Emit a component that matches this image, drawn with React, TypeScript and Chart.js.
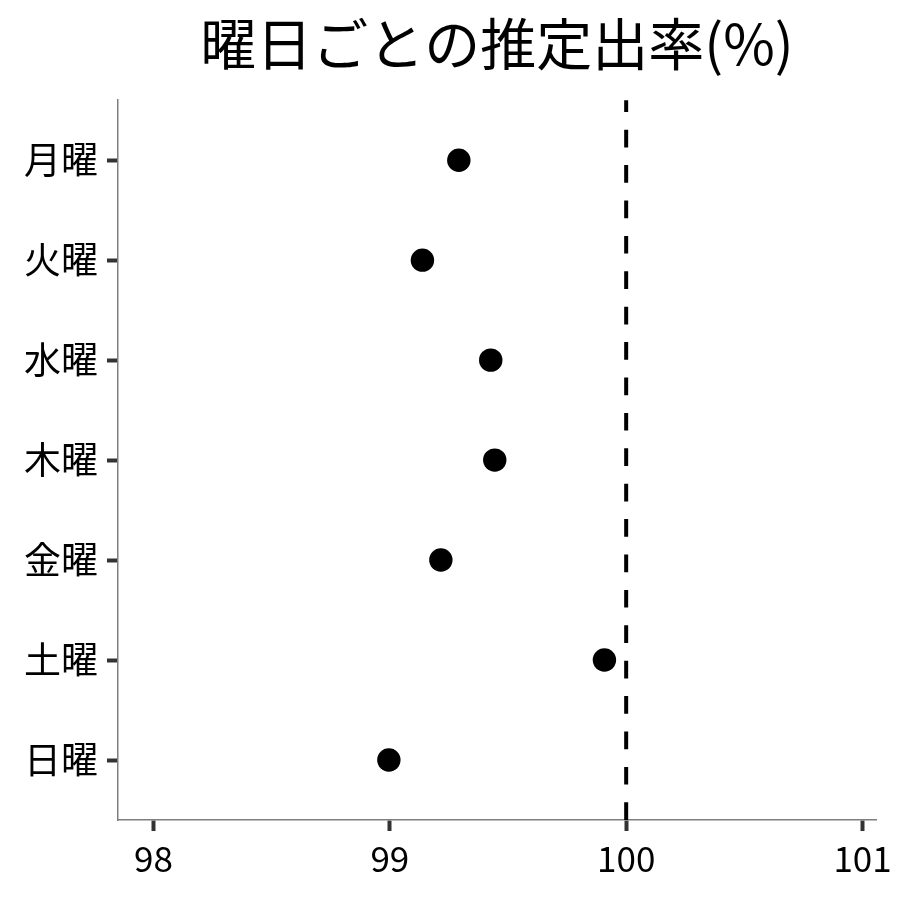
import React, { useEffect, useRef } from "react";
import { Chart, registerables } from "chart.js";

Chart.register(...registerables);

const DAYS = ["月曜", "火曜", "水曜", "木曜", "金曜", "土曜", "日曜"];
const RATES = [99.292, 99.138, 99.427, 99.444, 99.216, 99.908, 98.996];
const X_TICKS = [98, 99, 100, 101];
const REF_LINE = 100;
const TITLE = "曜日ごとの推定出率(%)";

const FONT = "'Noto Sans CJK JP', 'Noto Sans', sans-serif";

const refLinePlugin = {
  id: "refLine",
  beforeDatasetsDraw(chart: any) {
    const { ctx, chartArea, scales } = chart;
    const x = scales.x.getPixelForValue(REF_LINE);
    ctx.save();
    ctx.beginPath();
    ctx.strokeStyle = "#000000";
    ctx.lineWidth = 4;
    ctx.setLineDash([17.7, 17.7]);
    ctx.moveTo(x, chartArea.bottom);
    ctx.lineTo(x, chartArea.top);
    ctx.stroke();
    ctx.restore();
  },
};

export default function App() {
  const ref = useRef<HTMLCanvasElement | null>(null);

  useEffect(() => {
    if (!ref.current) return;
    const chart = new Chart(ref.current, {
      type: "scatter",
      data: {
        datasets: [
          {
            data: RATES.map((v, i) => ({ x: v, y: i })),
            backgroundColor: "#000000",
            borderWidth: 0,
            pointRadius: 11.7,
            pointHoverRadius: 11.7,
          },
        ],
      },
      options: {
        responsive: false,
        animation: false,
        events: [],
        layout: { padding: { left: 0, right: 24, top: 0, bottom: 0 } },
        plugins: {
          legend: { display: false },
          tooltip: { enabled: false },
          title: {
            display: true,
            text: TITLE,
            fullSize: false,
            color: "#000000",
            font: { family: FONT, size: 56, weight: "normal", lineHeight: 1.2 },
            padding: { top: 10, bottom: 23 },
          },
        },
        scales: {
          x: {
            type: "linear",
            min: 97.85,
            max: 101.057,
            afterBuildTicks: (scale: any) => {
              scale.ticks = X_TICKS.map((v) => ({ value: v }));
            },
            afterFit: (scale: any) => {
              scale.height = 80;
            },
            grid: {
              drawOnChartArea: false,
              drawTicks: true,
              tickLength: 11,
              tickWidth: 4,
              tickColor: "#333333",
            },
            border: { display: true, color: "#7f7f7f", width: 1.5 },
            ticks: {
              color: "#000000",
              padding: 7,
              maxRotation: 0,
              autoSkip: false,
              font: { family: FONT, size: 35 },
              callback: (v: any) => String(v),
            },
          },
          y: {
            type: "linear",
            reverse: true,
            min: -0.6,
            max: 6.6,
            afterBuildTicks: (scale: any) => {
              scale.ticks = DAYS.map((_, i) => ({ value: i }));
            },
            afterFit: (scale: any) => {
              scale.width = 118;
            },
            grid: {
              drawOnChartArea: false,
              drawTicks: true,
              tickLength: 11,
              tickWidth: 4,
              tickColor: "#333333",
            },
            border: { display: true, color: "#7f7f7f", width: 1.5 },
            ticks: {
              color: "#000000",
              padding: 9,
              autoSkip: false,
              font: { family: FONT, size: 37 },
              callback: (v: any) => DAYS[Math.round(Number(v))] ?? "",
            },
          },
        },
      },
      plugins: [refLinePlugin],
    });
    return () => chart.destroy();
  }, []);

  return (
    <div style={{ position: "fixed", left: 0, top: 0, width: 900, height: 900, background: "#ffffff" }}>
      <canvas ref={ref} width={900} height={900} style={{ display: "block" }} />
    </div>
  );
}
